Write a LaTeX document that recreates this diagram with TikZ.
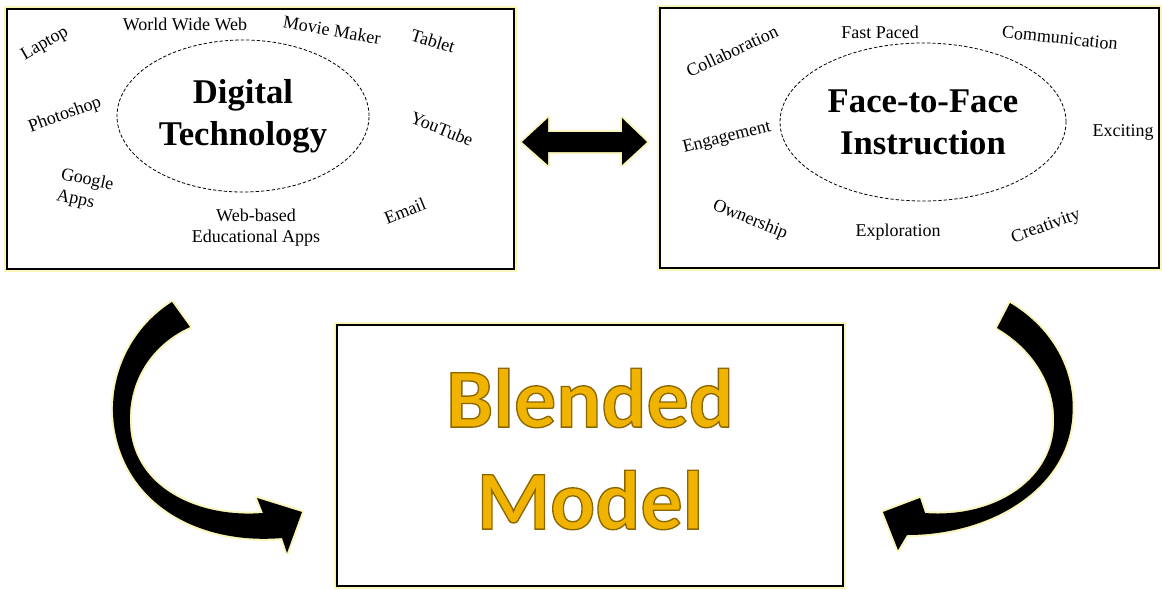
\documentclass[tikz,border=0pt]{standalone}
\usepackage{fontspec}
\setmainfont{Liberation Serif}
\newfontfamily\blendfont{Carlito}[BoldFeatures={FakeBold=1.6}]
\usetikzlibrary{shapes.geometric}
\definecolor{glow}{RGB}{250,246,185}
\definecolor{gold}{RGB}{240,180,0}

\begin{document}
\begin{tikzpicture}[
    x=0.75pt, y=-0.75pt,
    box/.style={
        rectangle,
        draw=black,
        line width=2pt,
        fill=white,
        preaction={draw=glow, line width=5pt}
    },
    hub/.style={
        ellipse,
        draw,
        line width=0.6pt,
        dash pattern=on 2.5pt off 1.5pt,
        align=center,
        font=\fontsize{26}{31.5}\selectfont\bfseries
    },
    term/.style={align=center, inner sep=1pt, font=\fontsize{13.5}{16}\selectfont},
    bigarrow/.style={fill=black, preaction={draw=glow, line width=3pt, line join=round}}
]
\useasboundingbox (0,0) rectangle (1162,589);

% Boxes
\node[box, minimum width=380.25pt, minimum height=195pt] (digital) at (260.5,139) {};
\node[box, minimum width=374.25pt, minimum height=195pt] (face) at (909.5,138) {};
\node[box, minimum width=379.5pt, minimum height=195.75pt] (blended) at (590,455.5) {};

% Hubs
\node[hub, minimum width=189pt, minimum height=114pt] (dighub) at (243,116) {Digital\\Technology};
\node[hub, minimum width=214.5pt, minimum height=118.5pt] (facehub) at (923,122) {Face-to-Face\\Instruction};

% Digital technology terms
\node[term, rotate=30] (laptop) at (45,44) {Laptop};
\node[term] (www) at (185,24) {World Wide Web};
\node[term, rotate=-10] (movie) at (332,30) {Movie Maker};
\node[term, rotate=-17] (tablet) at (433,41) {Tablet};
\node[term, rotate=20] (photoshop) at (65,115) {Photoshop};
\node[term, rotate=-22] (youtube) at (442,129) {YouTube};
\node[term, rotate=-12, align=left] (google) at (85,191) {Google\\Apps};
\node[term] (webapps) at (256,228) {Web-based\\Educational Apps};
\node[term, rotate=22] (email) at (405,211) {Email};

% Face-to-face terms
\node[term, rotate=25] (collab) at (732,51) {Collaboration};
\node[term] (fast) at (880,32) {Fast Paced};
\node[term, rotate=-6] (comm) at (1060,38) {Communication};
\node[term, rotate=14] (engage) at (727,138) {Engagement};
\node[term] (exciting) at (1123,132) {Exciting};
\node[term, rotate=-22] (owner) at (750,220) {Ownership};
\node[term] (explore) at (898,232) {Exploration};
\node[term, rotate=20] (creative) at (1046,227) {Creativity};

% Blended model
\node[align=center, text=gold, font=\blendfont\bfseries\fontsize{63}{76.5}\selectfont] (model) at (590,449) {%
    \special{pdf:literal direct 0.55 0.4 0 RG}Blended\\\special{pdf:literal direct 0.55 0.4 0 RG}Model};

% Arrows
\fill[bigarrow] (522,142) -- (548,118) -- (548,132) -- (622,132) -- (622,118) -- (647,142)
    -- (622,165) -- (622,152) -- (548,152) -- (548,165) -- cycle;

\fill[bigarrow] (172,302) .. controls (128,330) and (108,380) .. (114,425)
    .. controls (125,505) and (200,545) .. (282,538)
    -- (287,553) -- (302,512) -- (257,498) -- (263,513)
    .. controls (200,518) and (140,490) .. (131,435)
    .. controls (124,385) and (150,345) .. (190,327) -- cycle;

\fill[bigarrow] (1010,303) .. controls (1055,330) and (1077,375) .. (1072,420)
    .. controls (1065,490) and (990,535) .. (907,535)
    -- (898,550) -- (883,512) -- (920,498) -- (925,513)
    .. controls (990,518) and (1045,485) .. (1053,435)
    .. controls (1060,390) and (1035,350) .. (997,328) -- cycle;

\end{tikzpicture}
\end{document}
